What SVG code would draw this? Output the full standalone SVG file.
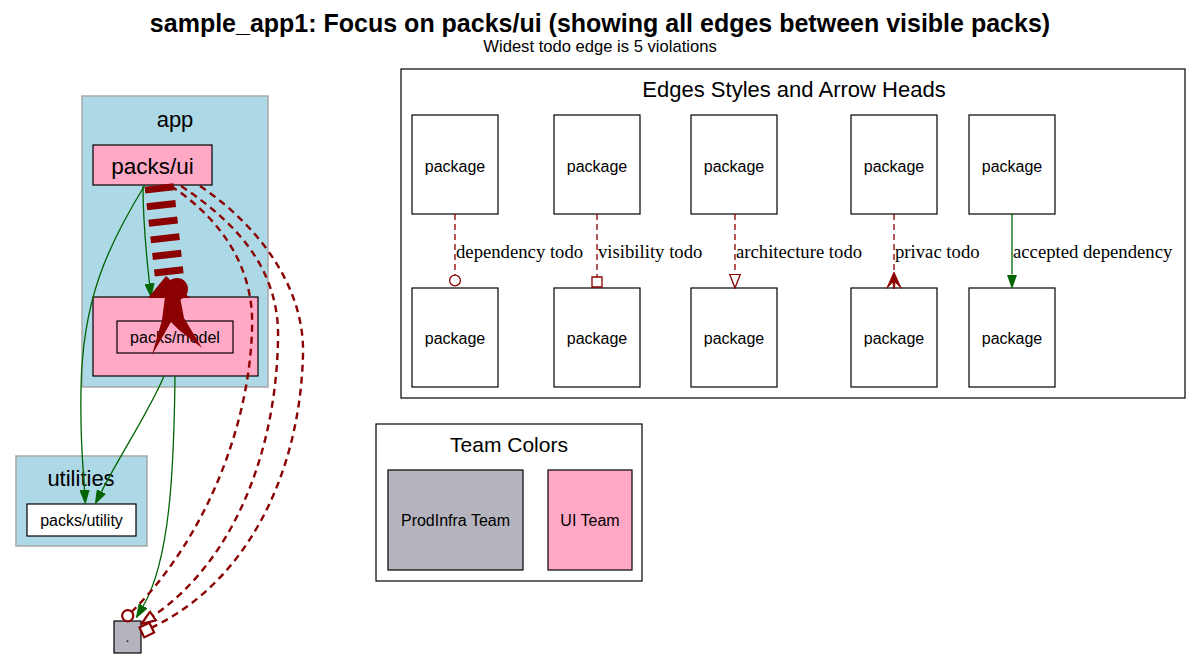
<svg xmlns="http://www.w3.org/2000/svg" width="1201" height="659" viewBox="0 0 1201 659">
<style>
.sans{font-family:"Liberation Sans",Arial,sans-serif;fill:#000}
.serif{font-family:"Liberation Serif","Times New Roman",serif;fill:#000;font-size:18.7px}
.cl{fill:#add8e6;stroke:#a9a9a9;stroke-width:1.5}
.pink{fill:#ffa9c6;stroke:#000;stroke-width:1.2}
.gray{fill:#b5b4be;stroke:#000;stroke-width:1.2}
.white{fill:#fff;stroke:#000;stroke-width:1.2}
.frame{fill:#fff;stroke:#000;stroke-width:1.2}
.ok{fill:none;stroke:#006400;stroke-width:1.3}
.todo{fill:none;stroke:#8b0000;stroke-width:1.3;stroke-dasharray:6,4}
.todo2{fill:none;stroke:#8b0000;stroke-width:2.4;stroke-dasharray:7,5}
</style>
<defs>
<marker id="gArrow" markerUnits="userSpaceOnUse" markerWidth="14" markerHeight="10" refX="0" refY="5" orient="auto" viewBox="0 0 14 10"><path d="M0,0.3 L13.6,5 L0,9.7 Z" fill="#006400" stroke="#006400" stroke-width="0.8"/></marker>
<marker id="odot1" markerUnits="userSpaceOnUse" markerWidth="13" markerHeight="13" refX="1" refY="6.5" orient="auto" viewBox="0 0 13 13"><circle cx="6.5" cy="6.5" r="5.4" fill="#fff" stroke="#8b0000" stroke-width="1.3"/></marker>
<marker id="obox1" markerUnits="userSpaceOnUse" markerWidth="12" markerHeight="12" refX="1" refY="6" orient="auto" viewBox="0 0 12 12"><rect x="1" y="1" width="10" height="10" fill="#fff" stroke="#8b0000" stroke-width="1.3"/></marker>
<marker id="otri1" markerUnits="userSpaceOnUse" markerWidth="15" markerHeight="12" refX="0.8" refY="6" orient="auto" viewBox="0 0 15 12"><path d="M0.8,0.8 L14.4,6 L0.8,11.2 Z" fill="#fff" stroke="#8b0000" stroke-width="1.3"/></marker>
<marker id="crow1" markerUnits="userSpaceOnUse" markerWidth="17" markerHeight="16" refX="0" refY="8" orient="auto" viewBox="0 0 17 16"><path d="M0,8 L16.5,0.6 L10,7 L16.5,7.4 L16.5,8.6 L10,9 L16.5,15.4 Z" fill="#8b0000" stroke="#8b0000" stroke-width="0.8" stroke-linejoin="round"/></marker>
<marker id="odot2" markerUnits="userSpaceOnUse" markerWidth="14" markerHeight="14" refX="1" refY="7" orient="auto" viewBox="0 0 14 14"><circle cx="7" cy="7" r="5.6" fill="#fff" stroke="#8b0000" stroke-width="2.2"/></marker>
<marker id="obox2" markerUnits="userSpaceOnUse" markerWidth="14" markerHeight="14" refX="1" refY="7" orient="auto" viewBox="0 0 14 14"><rect x="1.3" y="1.5" width="11" height="11" fill="#fff" stroke="#8b0000" stroke-width="2.2"/></marker>
<marker id="otri2" markerUnits="userSpaceOnUse" markerWidth="16" markerHeight="13" refX="1.2" refY="6.5" orient="auto" viewBox="0 0 16 13"><path d="M1.2,1.2 L15,6.5 L1.2,11.8 Z" fill="#fff" stroke="#8b0000" stroke-width="2.2"/></marker>
</defs>

<g id="title">
<text class="sans" x="600" y="32" text-anchor="middle" font-size="25" font-weight="bold">sample_app1: Focus on packs/ui (showing all edges between visible packs)</text>
<text class="sans" x="600" y="51.5" text-anchor="middle" font-size="16.6">Widest todo edge is 5 violations</text>
</g>

<g id="cluster_app">
<rect class="cl" x="82" y="96" width="186" height="291"/>
<text class="sans" x="175" y="127" text-anchor="middle" font-size="22">app</text>
</g>
<g id="node_packs_ui">
<rect class="pink" x="93" y="145" width="119" height="40"/>
<text class="sans" x="152.5" y="173.5" text-anchor="middle" font-size="22.5">packs/ui</text>
</g>
<g id="node_packs_model">
<rect class="pink" x="93" y="297" width="165" height="79"/>
<rect class="pink" x="117" y="321" width="116" height="32"/>
<text class="sans" x="175" y="343" text-anchor="middle" font-size="16">packs/model</text>
</g>
<g id="cluster_utilities">
<rect class="cl" x="16" y="456" width="131" height="90"/>
<text class="sans" x="81" y="486" text-anchor="middle" font-size="22">utilities</text>
</g>
<g id="node_packs_utility">
<rect class="white" x="27" y="504" width="109" height="32"/>
<text class="sans" x="81.5" y="526" text-anchor="middle" font-size="16">packs/utility</text>
</g>
<g id="node_root">
<rect class="gray" x="114" y="621" width="27" height="32"/>
<text class="sans" x="127.5" y="642" text-anchor="middle" font-size="14">.</text>
</g>

<g id="legend_edges">
<rect class="frame" x="401" y="69" width="784" height="329"/>
<text class="sans" x="794" y="97" text-anchor="middle" font-size="22">Edges Styles and Arrow Heads</text>
<g id="lg_a1"><rect class="white" x="412" y="115" width="86" height="99"/><text class="sans" x="455" y="172" text-anchor="middle" font-size="16">package</text></g>
<g id="lg_a2"><rect class="white" x="412" y="288" width="86" height="99"/><text class="sans" x="455" y="344" text-anchor="middle" font-size="16">package</text></g>
<g id="lg_b1"><rect class="white" x="554" y="115" width="86" height="99"/><text class="sans" x="597" y="172" text-anchor="middle" font-size="16">package</text></g>
<g id="lg_b2"><rect class="white" x="554" y="288" width="86" height="99"/><text class="sans" x="597" y="344" text-anchor="middle" font-size="16">package</text></g>
<g id="lg_c1"><rect class="white" x="691" y="115" width="86" height="99"/><text class="sans" x="734" y="172" text-anchor="middle" font-size="16">package</text></g>
<g id="lg_c2"><rect class="white" x="691" y="288" width="86" height="99"/><text class="sans" x="734" y="344" text-anchor="middle" font-size="16">package</text></g>
<g id="lg_d1"><rect class="white" x="851" y="115" width="86" height="99"/><text class="sans" x="894" y="172" text-anchor="middle" font-size="16">package</text></g>
<g id="lg_d2"><rect class="white" x="851" y="288" width="86" height="99"/><text class="sans" x="894" y="344" text-anchor="middle" font-size="16">package</text></g>
<g id="lg_e1"><rect class="white" x="969" y="115" width="86" height="99"/><text class="sans" x="1012" y="172" text-anchor="middle" font-size="16">package</text></g>
<g id="lg_e2"><rect class="white" x="969" y="288" width="86" height="99"/><text class="sans" x="1012" y="344" text-anchor="middle" font-size="16">package</text></g>
</g>

<g id="legend_teams">
<rect class="frame" x="376" y="424" width="266" height="157"/>
<text class="sans" x="509" y="452" text-anchor="middle" font-size="21">Team Colors</text>
<g id="team_prodinfra"><rect class="gray" x="388" y="470" width="135" height="100"/><text class="sans" x="455.5" y="526" text-anchor="middle" font-size="16">ProdInfra Team</text></g>
<g id="team_ui"><rect class="pink" x="548" y="470" width="84" height="100"/><text class="sans" x="590" y="526" text-anchor="middle" font-size="16">UI Team</text></g>
</g>

<g id="connectors">
<!-- legend edges -->
<path class="todo" d="M455,214 L455,275" marker-end="url(#odot1)"/>
<text class="serif" x="456" y="258">dependency todo</text>
<path class="todo" d="M597,214 L597,277" marker-end="url(#obox1)"/>
<text class="serif" x="598" y="258">visibility todo</text>
<path class="todo" d="M735,214 L735,274.4" marker-end="url(#otri1)"/>
<text class="serif" x="736" y="258">architecture todo</text>
<path class="todo" d="M894,214 L894,272" marker-end="url(#crow1)"/>
<text class="serif" x="895" y="258">privac todo</text>
<path class="ok" d="M1012,214 L1012,274.5" marker-end="url(#gArrow)"/>
<text class="serif" x="1013" y="258">accepted dependency</text>

<!-- graph edges -->
<path class="ok" d="M145,185 C108,245 82,300 81,390 C80,440 83,465 84.5,490" marker-end="url(#gArrow)"/>
<path class="ok" d="M143,186 C143,220 146,252 149.5,283.5" marker-end="url(#gArrow)"/>
<path class="ok" d="M164,376 C150,410 120,455 101.5,491.6" marker-end="url(#gArrow)"/>
<path class="ok" d="M175,376 C174,470 170,560 143.2,606" marker-end="url(#gArrow)"/>

<g id="edge_ui_model_todo">
<path d="M159,185 L170,282" fill="none" stroke="#8b0000" stroke-width="29" stroke-dasharray="7,9.7"/>
<path d="M148,298 L166,276 L190,298 Z" fill="#8b0000"/>
<circle cx="177" cy="289" r="11" fill="#8b0000"/>
<path d="M165,297 L180,297 L184,318 L202,348 L179,330 L171,322 L152,355 L162,320 Z" fill="#8b0000"/>
</g>

<path class="todo2" d="M171,186 C215,215 255,262 252,330 C249,430 203,541 132,611.5" marker-end="url(#odot2)"/>
<path class="todo2" d="M181,186 C240,225 280,272 278,340 C276,450 235,560 153,616" marker-end="url(#otri2)"/>
<path class="todo2" d="M200,186 C262,228 305,290 303,355 C300,470 250,580 152,627.5" marker-end="url(#obox2)"/>
</g>
</svg>
